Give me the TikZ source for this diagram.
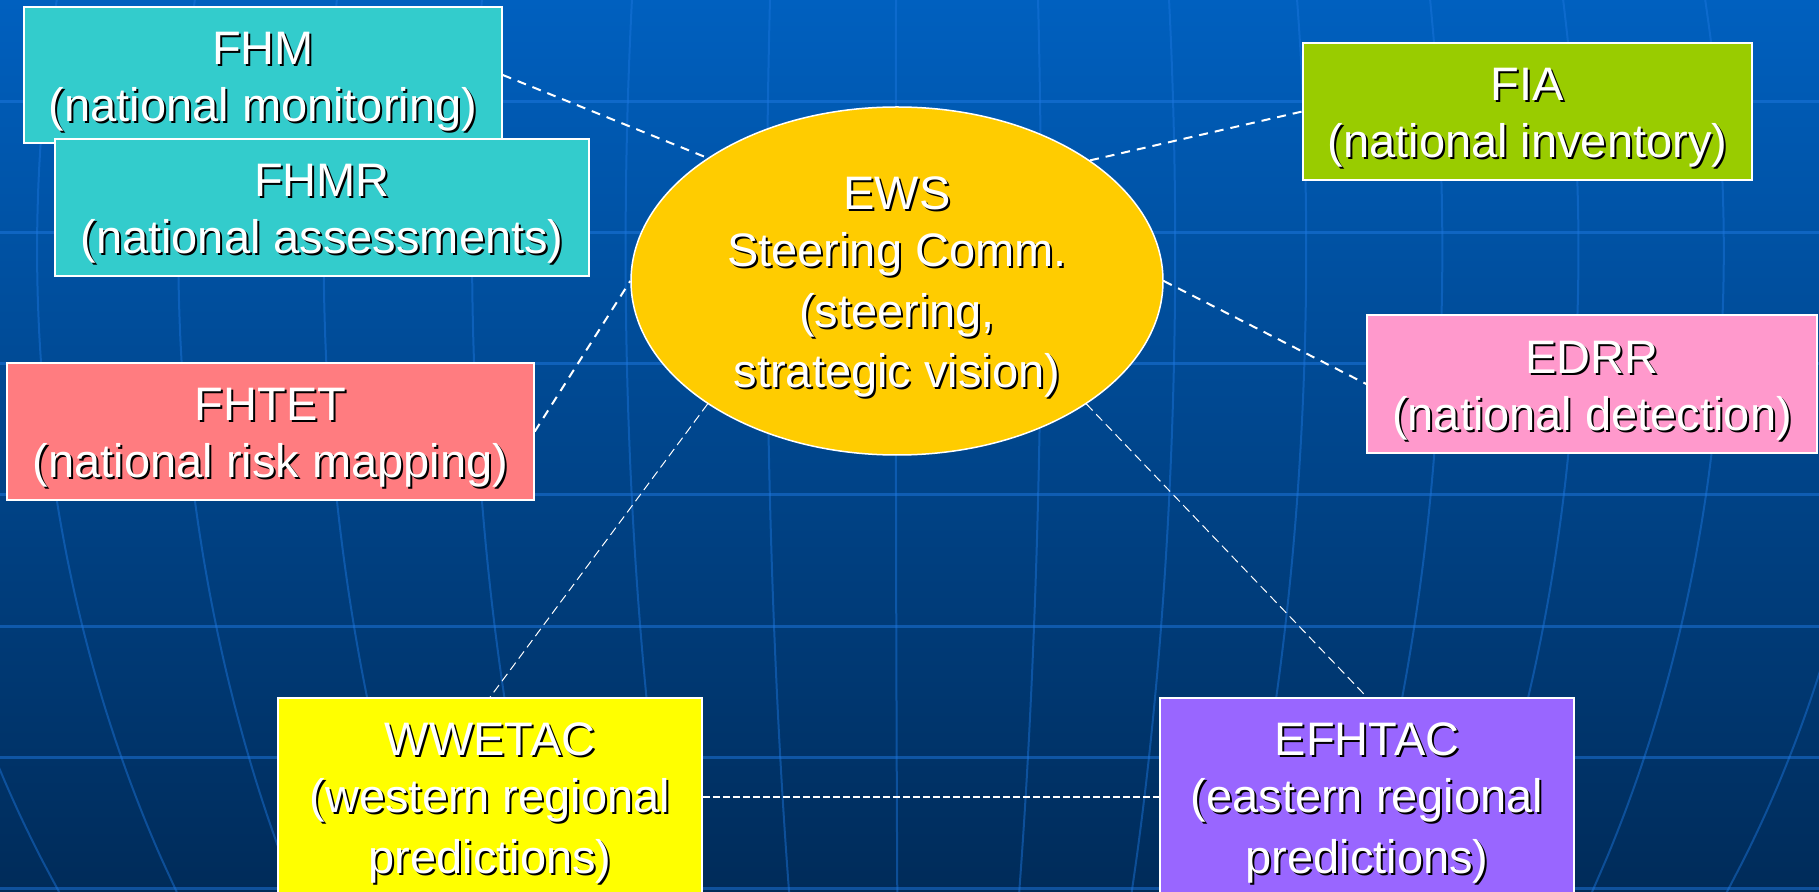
\documentclass[tikz,border=0pt]{standalone}
\usepackage{fontspec}
\setmainfont{Liberation Sans}
\usepackage{tikz}
\usetikzlibrary{shapes.geometric}
\definecolor{bgtop}{HTML}{0060BF}
\definecolor{bgbot}{HTML}{002B59}
\definecolor{gridblue}{HTML}{1E78E0}
\definecolor{fhmteal}{HTML}{33CCCC}
\definecolor{fiagreen}{HTML}{99CC00}
\definecolor{edrrpink}{HTML}{FF99CC}
\definecolor{fhtetred}{HTML}{FF7C80}
\definecolor{wwyellow}{HTML}{FFFF00}
\definecolor{efviolet}{HTML}{9966FF}
\definecolor{ewsgold}{HTML}{FFCC00}
% white text with a dark drop shadow
\newcommand\sh[1]{\rule{0pt}{1em}\rlap{\kern1pt\raisebox{-1pt}{\color{black}#1}}#1}

\begin{document}
\begin{tikzpicture}[x=0.5pt,y=-0.5pt,
    box/.style={draw=white,line width=0.75pt,inner sep=0pt,text=white,align=center,
        font=\fontsize{23.5}{28.5}\selectfont},
    link/.style={draw=white,line width=1pt,dash pattern=on 4.5pt off 3.5pt},
    thinlink/.style={draw=white,line width=0.5pt,dash pattern=on 4.5pt off 2.5pt},
    flatlink/.style={draw=white,line width=1pt,dash pattern=on 3.5pt off 1.5pt}]
\useasboundingbox (0,0) rectangle (1819,892);
\clip (0,0) rectangle (1819,892);
% background globe grid
\shade[top color=bgtop,bottom color=bgbot] (0,0) rectangle (1819,892);
\foreach \gy in {102,233,364,495,626,757,888}
    \draw[gridblue,opacity=0.5,line width=1.5pt] (0,\gy) -- (1819,\gy);
\foreach \gx in {-80,57,195,337,482,632,770,896,1038,1169,1297,1430,1563,1705,1862}
    \draw[gridblue,opacity=0.45,line width=1pt]
        plot[variable=\t,domain=0:892,samples=25,smooth]
        ({905+(\gx-905)/0.977*sqrt(1-((\t-250)/1180)^2)},\t);

\node[box,fill=fhmteal,minimum width=239pt,minimum height=68pt] (fhm) at (263,75)
    {\sh{FHM}\\\sh{(national monitoring)}};
\node[box,fill=fhmteal,minimum width=267pt,minimum height=68.5pt] (fhmr) at (322,207.5)
    {\sh{FHMR}\\\sh{(national assessments)}};
\node[box,fill=fiagreen,minimum width=224.5pt,minimum height=68.5pt] (fia) at (1527.5,111.5)
    {\sh{FIA}\\\sh{(national inventory)}};
\node[box,fill=edrrpink,minimum width=225pt,minimum height=69pt] (edrr) at (1592,384)
    {\sh{EDRR}\\\sh{(national detection)}};
\node[box,fill=fhtetred,minimum width=263.5pt,minimum height=68.5pt] (fhtet) at (270.5,431.5)
    {\sh{FHTET}\\\sh{(national risk mapping)}};
\node[box,fill=wwyellow,minimum width=212pt,minimum height=99pt] (wwetac) at (490,797)
    {\sh{WWETAC}\\\sh{(western regional}\\\sh{predictions)}};
\node[box,fill=efviolet,minimum width=207pt,minimum height=99pt] (efhtac) at (1367,797)
    {\sh{EFHTAC}\\\sh{(eastern regional}\\\sh{predictions)}};
\node[box,ellipse,fill=ewsgold,minimum width=266pt,minimum height=174pt] (ews) at (897,281)
    {\sh{EWS}\\\sh{Steering Comm.}\\\sh{(steering,}\\\sh{strategic vision)}};

\draw[link] (fhm.east) -- (ews.147);
\draw[link] (ews.32) -- (fia.west);
\draw[link] (fhtet.east) -- (ews.west);
\draw[link] (ews.east) -- (edrr.west);
\draw[thinlink] (ews.213) -- (wwetac.north);
\draw[thinlink] (ews.327) -- (efhtac.north);
\draw[flatlink] (wwetac.east) -- (efhtac.west);
\end{tikzpicture}
\end{document}
